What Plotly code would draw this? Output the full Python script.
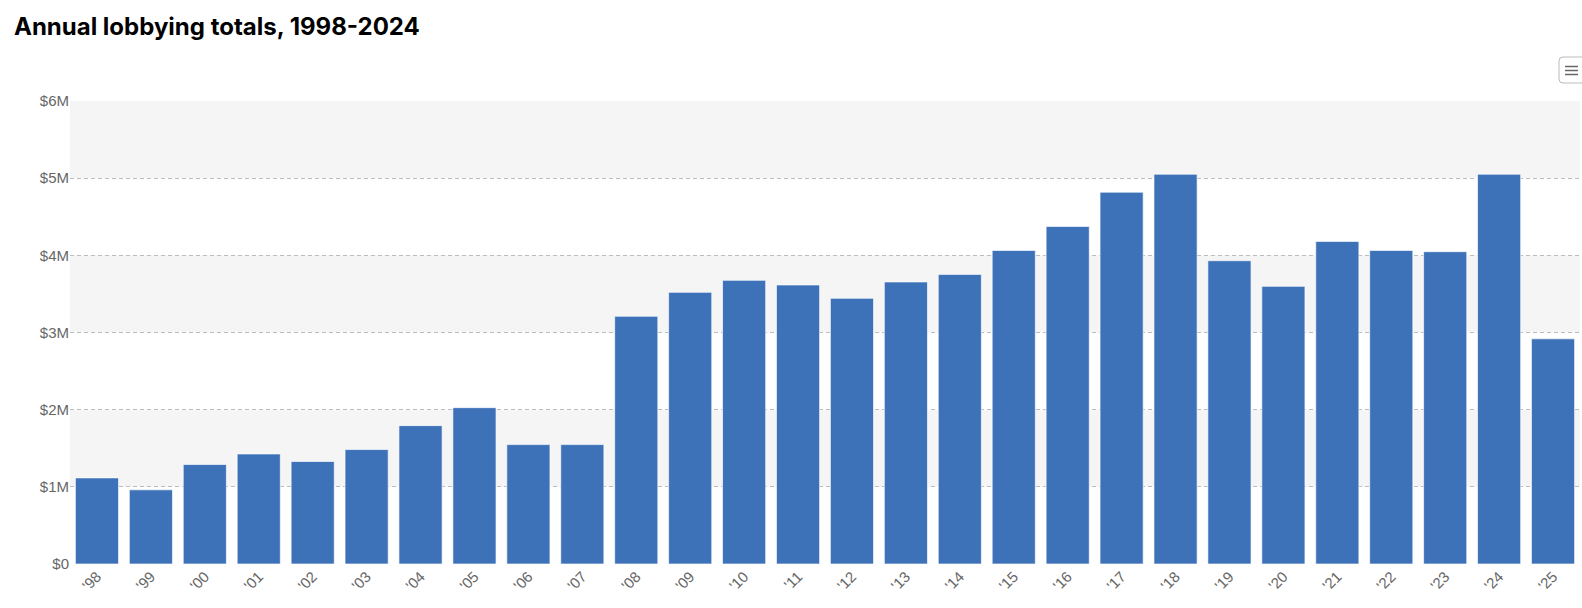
import plotly.graph_objects as go

years = ["'98", "'99", "'00", "'01", "'02", "'03", "'04", "'05", "'06", "'07",
         "'08", "'09", "'10", "'11", "'12", "'13", "'14", "'15", "'16", "'17",
         "'18", "'19", "'20", "'21", "'22", "'23", "'24", "'25"]
totals = [1116000, 961000, 1289000, 1426000, 1328000, 1483000, 1793000, 2026000,
          1547000, 1547000, 3210000, 3520000, 3676000, 3616000, 3443000, 3655000,
          3753000, 4063000, 4374000, 4818000, 5051000, 3930000, 3598000, 4180000,
          4063000, 4047000, 5051000, 2918000]
y_ticks = [0, 1000000, 2000000, 3000000, 4000000, 5000000, 6000000]
y_labels = ["$0", "$1M", "$2M", "$3M", "$4M", "$5M", "$6M"]
bands = [(1000000, 2000000), (3000000, 4000000), (5000000, 6000000)]

fig = go.Figure(go.Bar(
    x=years, y=totals,
    marker=dict(color="#3d71b8", line=dict(color="rgba(255,255,255,0.65)", width=1)),
    hoverinfo="x+y",
))

for y0, y1 in bands:
    fig.add_shape(type="rect", xref="paper", yref="y", x0=0, x1=1, y0=y0, y1=y1,
                  fillcolor="#f5f5f5", line=dict(width=0), layer="below")

# export (hamburger) button decoration
W, H = 1510.0, 463.0
def px(x): return (x - 70) / W
def py(y): return (564 - y) / H
x0, x1, yt, yb, r = 1559, 1590, 57, 83, 4
path = (f"M {px(x0+r)},{py(yt)} L {px(x1)},{py(yt)} L {px(x1)},{py(yb)} L {px(x0+r)},{py(yb)} "
        f"Q {px(x0)},{py(yb)} {px(x0)},{py(yb-r)} L {px(x0)},{py(yt+r)} "
        f"Q {px(x0)},{py(yt)} {px(x0+r)},{py(yt)} Z")
fig.add_shape(type="path", xref="paper", yref="paper", path=path,
              fillcolor="white", line=dict(color="#bbbbbb", width=1))
for yy in (66.5, 70.5, 74.5):
    fig.add_shape(type="line", xref="paper", yref="paper", x0=px(1565), x1=px(1578),
                  y0=py(yy), y1=py(yy), line=dict(color="#666666", width=1.5))

fig.update_layout(
    width=1582, height=608,
    margin=dict(l=70, r=2, t=101, b=44),
    paper_bgcolor="white", plot_bgcolor="white",
    bargap=0.2,
    showlegend=False,
    title=dict(text="<b>Annual lobbying totals, 1998-2024</b>", x=14/1582, xanchor="left",
               y=1 - 27/608, yanchor="middle",
               font=dict(family="Inter", size=24, color="#000000")),
    font=dict(family="Liberation Sans, Arial", size=15, color="#666666"),
)
fig.update_yaxes(range=[0, 6000000], tickvals=y_ticks, ticktext=y_labels,
                 showgrid=True, gridcolor="#bdbdbd", griddash="4px,3px", gridwidth=1,
                 zeroline=False, showline=False, ticks="",
                 tickfont=dict(size=15, color="#666666"))
fig.update_xaxes(tickangle=-45, showgrid=False, showline=False, ticks="",
                 tickfont=dict(size=15, color="#666666"))

fig.write_html("out.html", config={"displayModeBar": False},
               post_script="document.body.style.margin='0';")
